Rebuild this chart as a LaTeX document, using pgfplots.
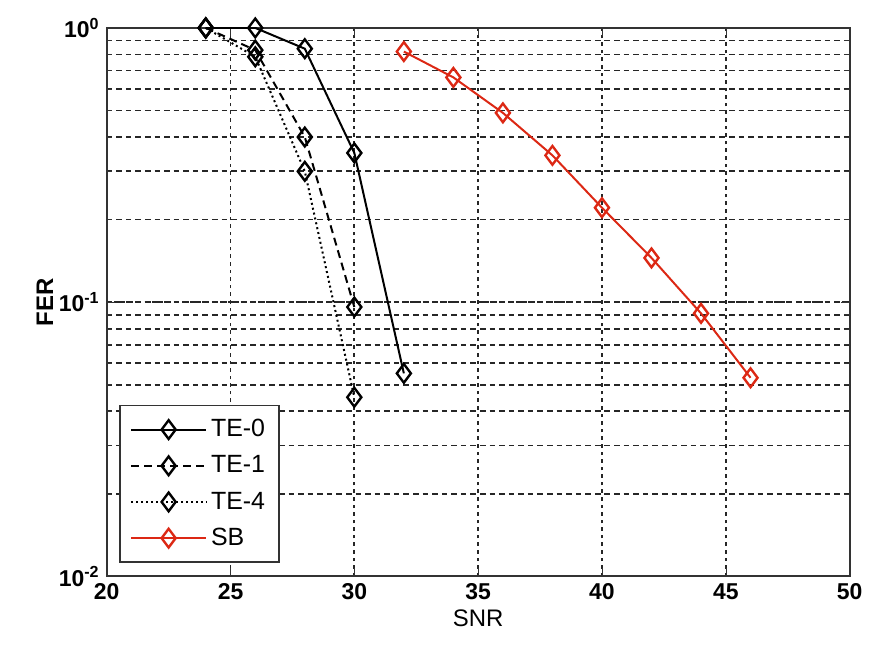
\documentclass[border=0pt]{standalone}
\usepackage{fontspec}
\setmainfont{Liberation Sans}
\usepackage{pgfplots}
\pgfplotsset{compat=1.18}
\definecolor{sbred}{RGB}{220,40,20}
\begin{document}
\begin{tikzpicture}
\begin{semilogyaxis}[
  at={(0,0)}, anchor=south west,
  scale only axis,
  width=372.5pt, height=275pt,
  xmin=20, xmax=50, ymin=0.01, ymax=1,
  xtick={20,25,30,35,40,45,50},
  ytick={0.01,0.1,1},
  yticklabels={10\textsuperscript{-2},10\textsuperscript{-1},10\textsuperscript{0}},
  /pgf/number format/assume math mode=true,
  tick label style={font=\fontsize{11.5}{13}\selectfont\bfseries},
  grid=both,
  major grid style={black!85, line width=0.9pt, dash pattern=on 1.8pt off 2pt},
  minor grid style={black!85, line width=0.9pt, dash pattern=on 2.8pt off 2pt},
  axis line style={black!80, line width=1pt},
  tick style={black!80},
  xlabel={SNR},
  ylabel={\bfseries FER},
  label style={font=\fontsize{12}{14}\selectfont},
  xlabel style={yshift=2pt},
  ylabel style={yshift=-4pt},
  legend style={at={(0.017,0.024)}, anchor=south west, draw=black!80, line width=0.9pt,
    font=\fontsize{12.5}{14}\selectfont, row sep=4pt, inner sep=5pt},
  legend cell align=left,
  legend image code/.code={%
    \draw[mark repeat=2,mark phase=2] plot coordinates {(0cm,0cm) (0.66cm,0cm) (1.32cm,0cm)};},
  every axis plot/.append style={line width=1pt, mark=diamond, mark size=4.7pt,
    mark options={solid, line width=1.2pt}},
]
\addplot[black] coordinates {(24,1.0) (26,1.0) (28,0.84) (30,0.35) (32,0.055)};
\addlegendentry{TE-0}
\addplot[black, dash pattern=on 4pt off 2.5pt] coordinates {(24,1.0) (26,0.83) (28,0.40) (30,0.096)};
\addlegendentry{TE-1}
\addplot[black, dash pattern=on 1pt off 1.5pt] coordinates {(24,1.0) (26,0.785) (28,0.30) (30,0.045)};
\addlegendentry{TE-4}
\addplot[sbred] coordinates {(32,0.82) (34,0.66) (36,0.49) (38,0.343) (40,0.221) (42,0.145) (44,0.091) (46,0.053)};
\addlegendentry{SB}
\end{semilogyaxis}
\path[use as bounding box] (-53.5pt,-34pt) rectangle (381pt,289pt);
\end{tikzpicture}
\end{document}
